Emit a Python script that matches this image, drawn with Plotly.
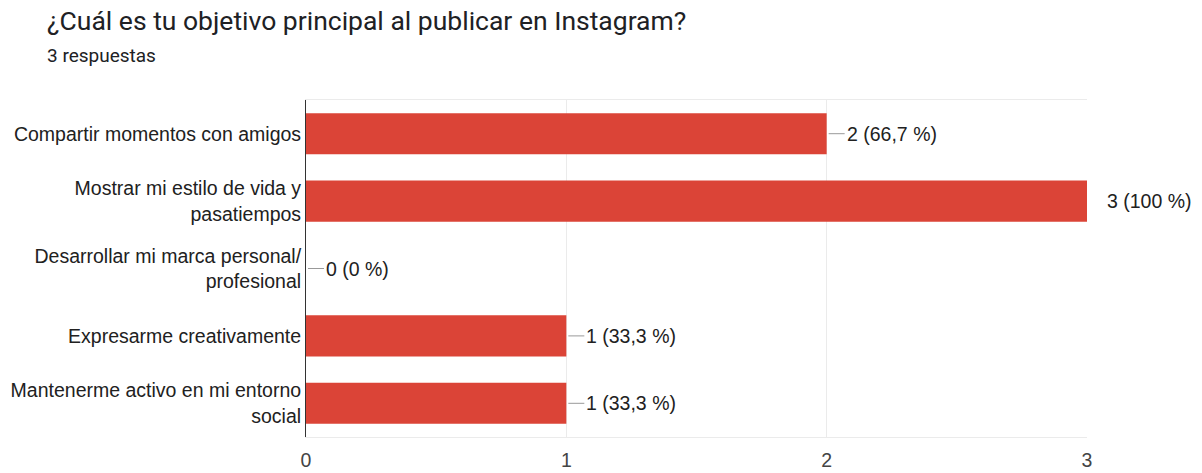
import plotly.graph_objects as go

categories = [
    "Compartir momentos con amigos",
    "Mostrar mi estilo de vida y<br>pasatiempos",
    "Desarrollar mi marca personal/<br>profesional",
    "Expresarme creativamente",
    "Mantenerme activo en mi entorno<br>social",
]
counts = [2, 3, 0, 1, 1]
labels = ["2 (66,7 %)", "3 (100 %)", "0 (0 %)", "1 (33,3 %)", "1 (33,3 %)"]
x_ticks = [0, 1, 2, 3]

title_text = "¿Cuál es tu objetivo principal al publicar en Instagram?"
subtitle_text = "3 respuestas"

BAR = "#db4437"
TXT = "#212121"
GRID = "#ebebeb"
LABEL_FONT = "Liberation Sans, Arial, sans-serif"
FS = 19.5

fig = go.Figure(
    go.Bar(
        x=counts,
        y=categories,
        orientation="h",
        marker=dict(color=BAR, line=dict(width=0)),
        width=0.61,
        hoverinfo="skip",
    )
)

annotations = []
shapes = []
for c, cat, lab in zip(counts, categories, labels):
    annotations.append(
        dict(
            x=c, y=cat, xref="x", yref="y",
            text=lab, showarrow=False, xanchor="left", yanchor="middle",
            xshift=19, borderpad=0,
            font=dict(family=LABEL_FONT, size=FS, color=TXT),
        )
    )
    shapes.append(
        dict(
            type="line", xref="x", yref="y", xsizemode="pixel", xanchor=c,
            x0=2, x1=18, y0=cat, y1=cat,
            line=dict(color="#999999", width=1), layer="above",
        )
    )

annotations.append(dict(
    text=title_text, xref="paper", yref="paper", x=-0.334, y=1.237,
    xanchor="left", yanchor="middle", showarrow=False,
    font=dict(family="Roboto, sans-serif", size=26.5, color="#202124"),
))
annotations.append(dict(
    text=subtitle_text, xref="paper", yref="paper", x=-0.334, y=1.1335,
    xanchor="left", yanchor="middle", showarrow=False,
    font=dict(family="Roboto, sans-serif", size=19, color="#202124"),
))

fig.update_layout(
    width=1202, height=473,
    margin=dict(l=306, r=115, t=100, b=36, autoexpand=False),
    paper_bgcolor="white", plot_bgcolor="white",
    showlegend=False,
    annotations=annotations,
    shapes=shapes,
    xaxis=dict(
        range=[0, 3], tickvals=x_ticks, ticktext=[str(t) for t in x_ticks],
        showgrid=True, gridcolor=GRID, gridwidth=1,
        zeroline=False, showline=True, linecolor=GRID, mirror=True,
        tickfont=dict(family=LABEL_FONT, size=FS, color="#444444"),
        ticks="", ticklabelstandoff=6, fixedrange=True, automargin=False,
    ),
    yaxis=dict(
        autorange="reversed", showgrid=False, zeroline=False,
        showline=True, linecolor="#333333", linewidth=1,
        tickfont=dict(family=LABEL_FONT, size=FS, color=TXT),
        ticks="", ticklabelstandoff=0, fixedrange=True, automargin=False,
    ),
)

fig.write_html("out.html")
